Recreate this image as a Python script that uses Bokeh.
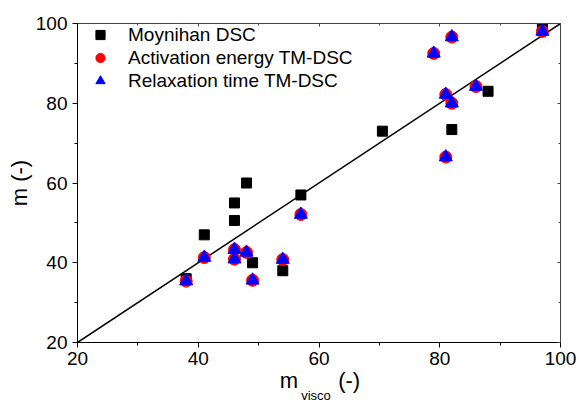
from bokeh.plotting import figure
from bokeh.models import Range1d, FixedTicker, LinearAxis
from bokeh.embed import file_html
from bokeh.resources import INLINE

# ---- data ----
moy_x = [38, 41, 46, 46, 48, 49, 54, 57, 70.5, 82, 88, 97]
moy_y = [36, 47, 55, 50.6, 60, 40, 38, 57, 73, 73.4, 83, 99.5]

act_x = [38, 41, 46, 46, 48, 49, 54, 57, 79, 81, 81, 82, 82, 86, 97]
act_y = [35.4, 41.3, 43.3, 40.9, 42.6, 35.6, 40.8, 52.1, 92.5, 82.2, 66.5, 96.6, 80, 84.2, 98]

rel_x = [38, 41, 46, 46, 48, 49, 54, 57, 79, 81, 81, 82, 82, 86, 97]
rel_y = [35.4, 41.3, 43.3, 40.9, 42.6, 35.6, 40.8, 52.1, 92.5, 82.2, 66.5, 96.6, 80, 84.2, 98]

line_x = [20, 100]
line_y = [20, 100]

major_ticks = [20, 40, 60, 80, 100]
minor_ticks = [30, 50, 70, 90]

x_title_main = {55: "m", 65: "(-)"}
x_title_sub = {59.5: "visco"}

FONT = "Liberation Sans"

p = figure(frame_width=483, frame_height=319,
           min_border_left=77, min_border_right=19, min_border_top=23, min_border_bottom=62,
           x_range=Range1d(20, 100), y_range=Range1d(20, 100),
           output_backend="svg", toolbar_location=None)
p.grid.visible = False
p.outline_line_color = "#444444"
p.background_fill_color = "white"
p.border_fill_color = "white"

ticker = FixedTicker(ticks=major_ticks, minor_ticks=minor_ticks)
for ax in (p.xaxis[0], p.yaxis[0]):
    ax.ticker = ticker
    ax.axis_line_color = "black"
    ax.major_tick_line_color = "black"
    ax.minor_tick_line_color = "black"
    ax.major_tick_in = 0
    ax.major_tick_out = 5
    ax.minor_tick_in = 0
    ax.minor_tick_out = 3
    ax.major_label_text_font = FONT
    ax.major_label_text_font_size = "19px"
    ax.major_label_text_color = "black"

p.xaxis[0].major_label_standoff = 4
p.yaxis[0].major_label_standoff = 5
p.yaxis[0].axis_label = "m (-)"
p.yaxis[0].axis_label_text_font = FONT
p.yaxis[0].axis_label_text_font_size = "22px"
p.yaxis[0].axis_label_text_font_style = "normal"
p.yaxis[0].axis_label_text_color = "black"
p.yaxis[0].axis_label_standoff = 1

# mirrored top/right axes with inward ticks, no labels
for loc in ("above", "right"):
    a = LinearAxis(ticker=ticker)
    a.major_label_text_color = None
    a.major_label_text_font_size = "0px"
    a.major_tick_in = 3
    a.major_tick_out = 0
    a.minor_tick_in = 2
    a.minor_tick_out = 0
    a.axis_line_color = "#444444"
    a.major_tick_line_color = "#444444"
    a.minor_tick_line_color = "#444444"
    p.add_layout(a, loc)

# x axis title built from two label-only axes (main text + subscript)
def title_axis(overrides, size, standoff):
    a = LinearAxis(ticker=FixedTicker(ticks=list(overrides.keys()), minor_ticks=[]))
    a.major_label_overrides = overrides
    a.axis_line_color = None
    a.major_tick_line_color = None
    a.minor_tick_line_color = None
    a.major_tick_in = 0
    a.major_tick_out = 0
    a.major_label_standoff = standoff
    a.major_label_text_font = FONT
    a.major_label_text_font_size = size
    a.major_label_text_color = "black"
    return a

p.add_layout(title_axis(x_title_main, "22px", 0), "below")
p.add_layout(title_axis(x_title_sub, "13px", -8), "below")

# diagonal
p.line(line_x, line_y, line_color="black", line_width=1.5)

p.scatter(moy_x, moy_y, marker="square", size=10, fill_color="black",
          line_color="black", legend_label="Moynihan DSC")
p.scatter(act_x, act_y, marker="circle", size=12, fill_color="red",
          line_color="red", legend_label="Activation energy TM-DSC")
p.scatter(rel_x, rel_y, marker="triangle", size=13, fill_color="blue",
          line_color="blue", legend_label="Relaxation time TM-DSC")

lg = p.legend[0]
lg.location = "top_left"
lg.margin = 0
lg.padding = 2
lg.spacing = 0
lg.glyph_width = 46
lg.glyph_height = 23
lg.label_height = 23
lg.label_standoff = 5
lg.label_text_font = FONT
lg.label_text_font_size = "19px"
lg.label_text_color = "black"
lg.background_fill_alpha = 0
lg.border_line_color = None

open("out.html", "w").write(file_html(p, INLINE))
